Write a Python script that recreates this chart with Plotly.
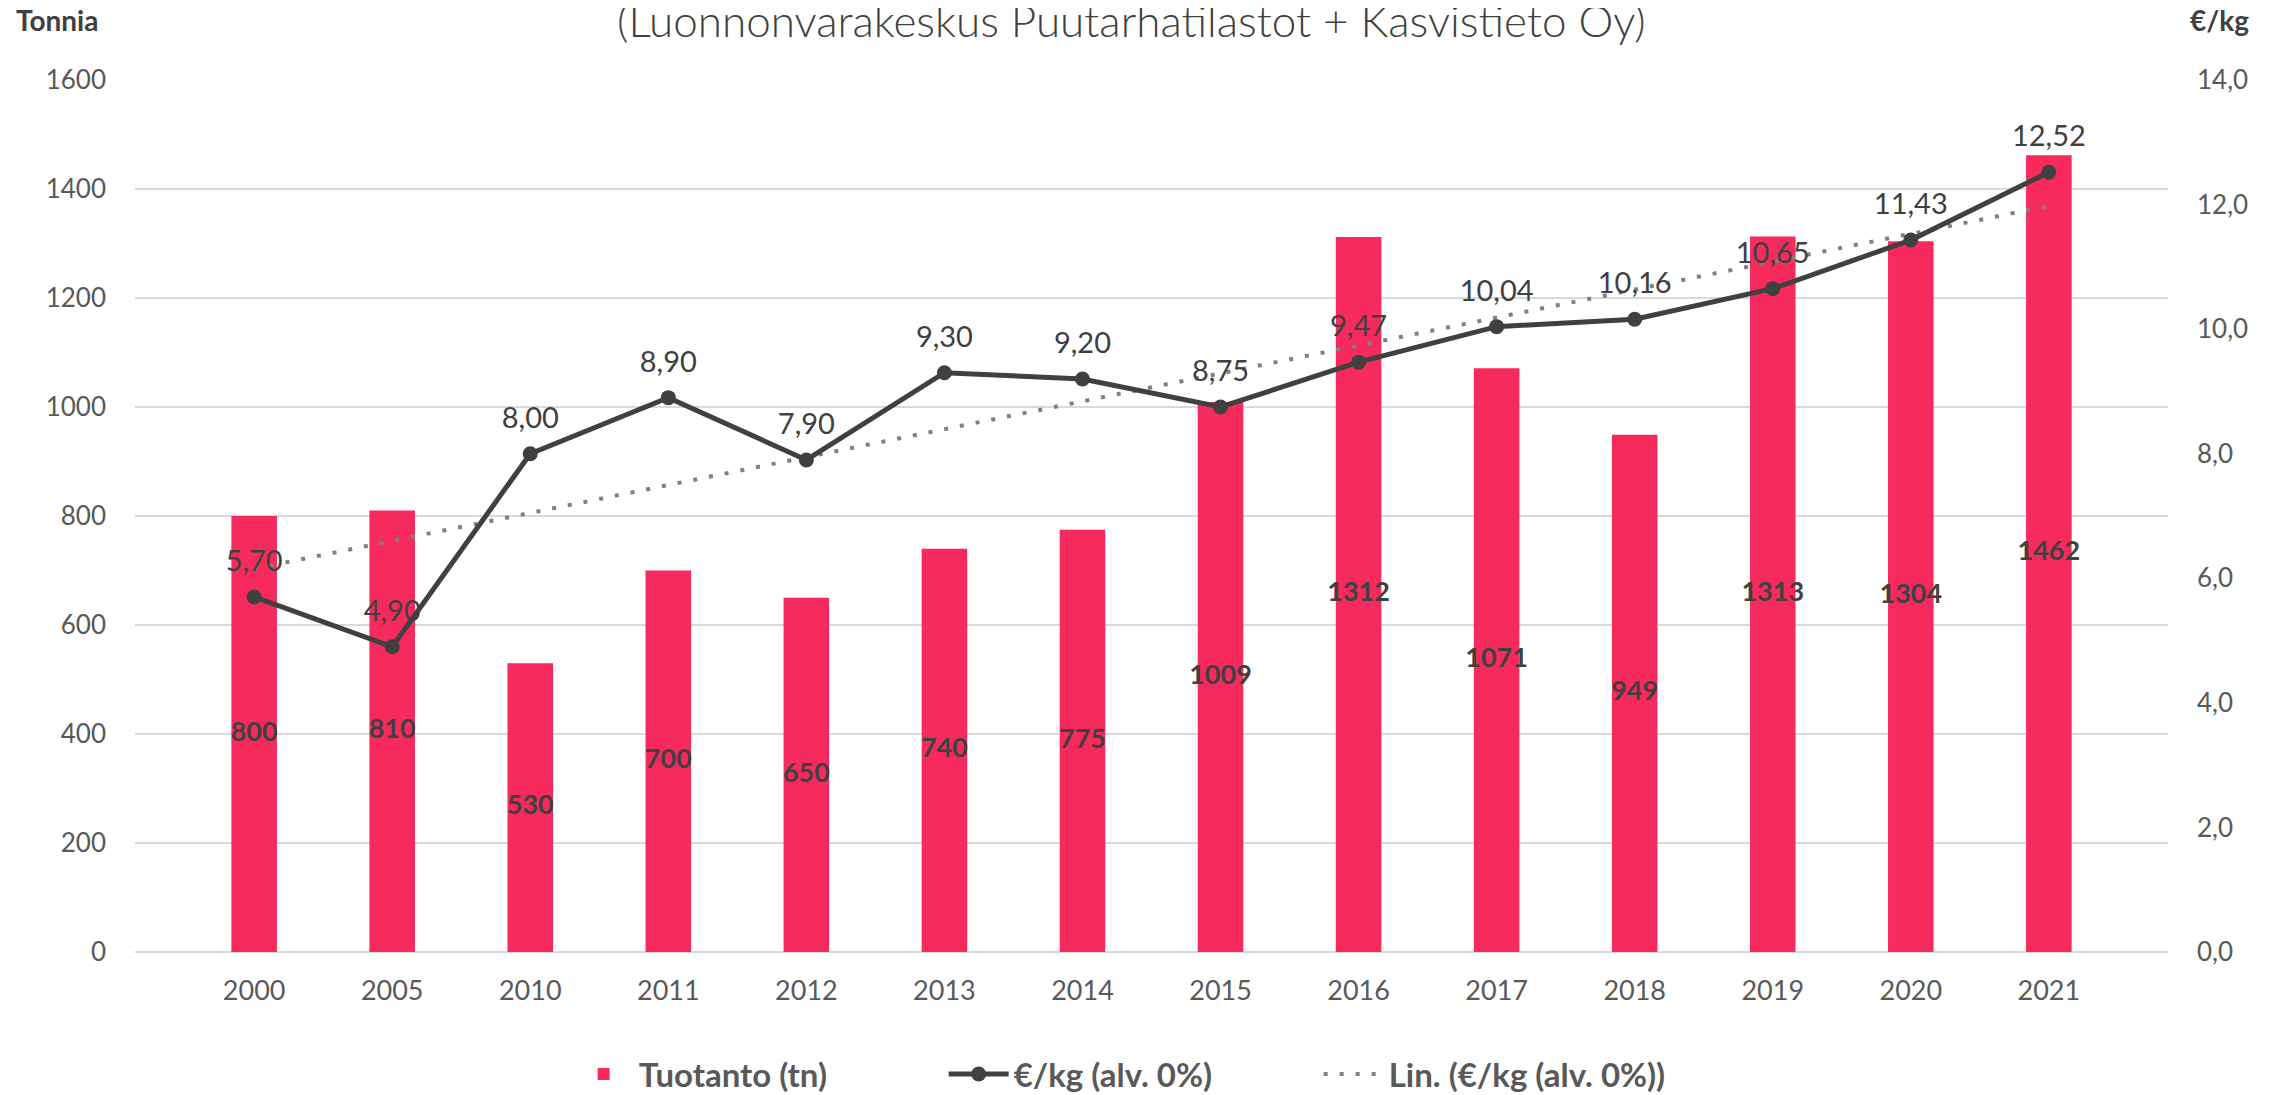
import numpy as np
import plotly.graph_objects as go

vuodet = ["2000", "2005", "2010", "2011", "2012", "2013", "2014",
          "2015", "2016", "2017", "2018", "2019", "2020", "2021"]
tuotanto = [800, 810, 530, 700, 650, 740, 775, 1009, 1312, 1071, 949, 1313, 1304, 1462]
hinta = [5.70, 4.90, 8.00, 8.90, 7.90, 9.30, 9.20, 8.75, 9.47, 10.04, 10.16, 10.65, 11.43, 12.52]

vasen_ticks = [0, 200, 400, 600, 800, 1000, 1200, 1400, 1600]
oikea_ticks = [0, 2, 4, 6, 8, 10, 12, 14]

# linear trend like excel's "Lin." trendline
idx = np.arange(1, len(hinta) + 1)
k, b = np.polyfit(idx, hinta, 1)
trendi = k * idx + b

FONT = "Lato"
TXT = "#595959"
DARK = "#404040"

# page body has an 8px margin, so the figure is a bit smaller than the window
W, H = 2274, 1087
L, R, T, B = 127, 114, 72, 143
PW, PH = W - L - R, H - T - B

fig = go.Figure()

fig.add_trace(go.Bar(
    x=vuodet, y=tuotanto, name="Tuotanto (tn)",
    marker=dict(color="#F72A5E", line=dict(width=0)),
    width=0.33, hoverinfo="skip",
))

# bar value labels in the middle of the bars
fig.add_trace(go.Scatter(
    x=vuodet, y=[v / 2 for v in tuotanto], mode="text",
    text=[str(v) for v in tuotanto],
    textfont=dict(family=FONT, size=27, color=DARK, weight="bold"),
    showlegend=False, hoverinfo="skip",
))

fig.add_trace(go.Scatter(
    x=vuodet, y=trendi, name="Lin. (€/kg (alv. 0%))", yaxis="y2",
    mode="lines", line=dict(color="#808080", width=4, dash="4px,12px"),
    hoverinfo="skip",
))

fig.add_trace(go.Scatter(
    x=vuodet, y=hinta, name="€/kg (alv. 0%)", yaxis="y2",
    mode="lines+markers",
    line=dict(color=DARK, width=5),
    marker=dict(color=DARK, size=15),
    hoverinfo="skip",
))

# price labels, pushed a bit higher with an invisible big marker
fig.add_trace(go.Scatter(
    x=vuodet, y=hinta, yaxis="y2", mode="markers+text",
    text=[f"{v:.2f}".replace(".", ",") for v in hinta],
    textposition="top center",
    textfont=dict(family=FONT, size=29, color=DARK),
    marker=dict(size=28, opacity=0),
    showlegend=False, hoverinfo="skip",
))

fig.update_layout(
    width=W, height=H,
    margin=dict(l=L, r=R, t=T, b=B, autoexpand=False),
    paper_bgcolor="white", plot_bgcolor="white",
    font=dict(family=FONT, size=25, color=TXT),
    title=dict(
        text="(Luonnonvarakeskus Puutarhatilastot + Kasvistieto Oy)",
        font=dict(family=FONT, size=44, color="#404040", weight=300),
        x=0.494, xanchor="center", xref="container",
        y=1 - 14 / H, yanchor="middle", yref="container",
    ),
    xaxis=dict(
        type="category", showgrid=False, showline=False, ticks="",
        tickfont=dict(size=27, color=TXT), ticklabelstandoff=20,
    ),
    yaxis=dict(
        range=[0, 1600], tickvals=vasen_ticks, showgrid=True,
        gridcolor="#D9D9D9", gridwidth=2, zeroline=True,
        zerolinecolor="#D9D9D9", zerolinewidth=2, showline=False,
        tickfont=dict(size=26, color=TXT), ticklabelstandoff=28,
    ),
    yaxis2=dict(
        range=[0, 14], tickvals=oikea_ticks,
        ticktext=[f"{v:.1f}".replace(".", ",") for v in oikea_ticks],
        overlaying="y", side="right", showgrid=False, zeroline=False,
        showline=False, tickfont=dict(size=26, color=TXT),
        ticklabelstandoff=28,
    ),
    legend=dict(
        orientation="h", x=0.49, xanchor="center", y=-122 / PH,
        yanchor="middle", traceorder="normal",
        font=dict(family=FONT, size=33, color=TXT, weight="bold"),
        itemwidth=60, entrywidthmode="pixels", entrywidth=300,
    ),
    annotations=[
        dict(text="<b>Tonnia</b>", xref="paper", yref="paper",
             x=-78 / PW, y=1 + 60 / PH, xanchor="center", yanchor="middle",
             showarrow=False, font=dict(size=28, color=DARK)),
        dict(text="<b>€/kg</b>", xref="paper", yref="paper",
             x=1 + 51 / PW, y=1 + 60 / PH, xanchor="center",
             yanchor="middle", showarrow=False,
             font=dict(size=28, color=DARK)),
    ],
)

# legend order: bar, price line, trend
fig.data[0].legendrank = 1
fig.data[3].legendrank = 2
fig.data[2].legendrank = 3

fig.write_html("out.html")
